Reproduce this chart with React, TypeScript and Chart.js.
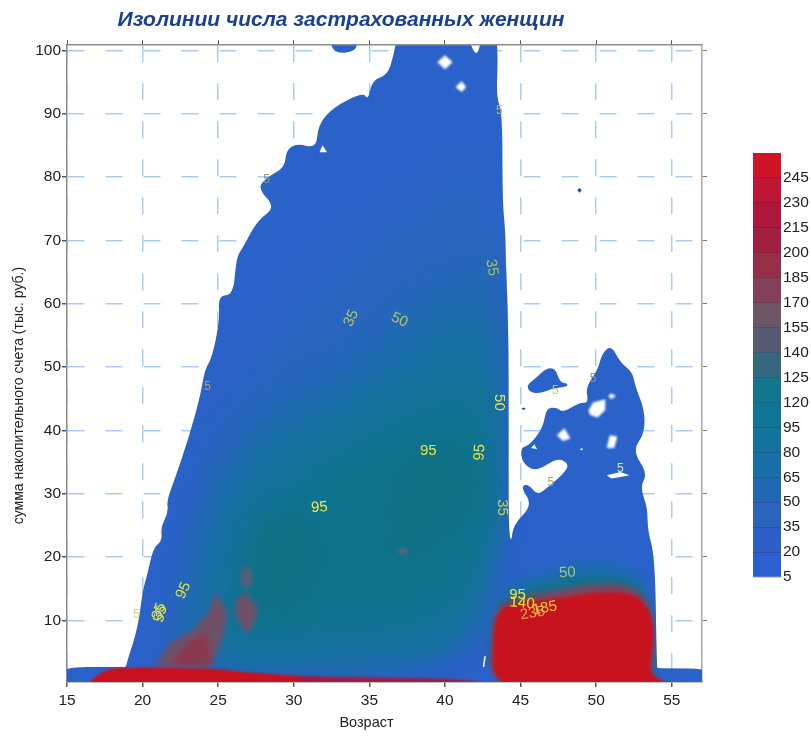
import React, { useEffect, useRef } from "react";
import { Chart, registerables, ScatterController } from "chart.js";

Chart.register(...registerables);

type Pair = number[];

const chartTitle = "Изолинии числа застрахованных женщин";
const xAxisTitle = "Возраст";
const yAxisTitle = "сумма накопительного счета (тыс. руб.)";
const ageTicks = [15, 20, 25, 30, 35, 40, 45, 50, 55];
const sumTicks = [10, 20, 30, 40, 50, 60, 70, 80, 90, 100];

const insuredOutline: Pair[] = [
  [14, -2], [14, 2.6], [18.7, 2.6], [18.9, 2.6], [19, 3.7], [19.7, 8.9], [20, 14.7], [20.3, 17.1], [20.7, 21.4], [21.3, 22.6],
  [21.2, 24.7], [21.7, 27], [21.6, 28.9], [22.1, 32.1], [23, 38.4], [23.8, 45.2], [24.1, 49.5], [24.6, 51.5],
  [25.1, 57.4], [25, 61.3], [26, 61.3], [26.2, 67.3], [26.6, 68.7], [27.6, 73.2], [28.8, 75.2], [27.6, 78.2],
  [28.2, 79.9], [29.4, 81.5], [29.5, 84.2], [30.2, 85.3], [31.5, 84.5], [31.6, 88.2], [32.6, 91], [34.6, 93.4],
  [34.9, 92.1], [35.2, 95.3], [36.2, 96.1], [36.6, 99.2], [36.9, 103], [41.4, 103], [42.1, 98.4], [42.5, 103],
  [43.4, 103], [43.5, 98.4], [43.4, 92.6], [43.8, 90.1], [43.8, 76.3], [44, 71.1], [44, 68.4], [44.2, 55.8],
  [44.2, 42], [44.2, 24.2], [44.4, 22.2], [44.5, 25], [45.8, 28.2], [45, 31], [45.5, 31.6], [46.1, 29.7],
  [46.8, 31], [48.1, 33.7], [48.1, 34.9], [47.4, 35.6], [46, 33.4], [45.1, 34.9], [45, 37.3], [45.6, 37.6],
  [46.5, 40.5], [46.7, 43.5], [47.4, 43.6], [47.8, 42.8], [48.9, 44.4], [49.5, 44.3], [49.3, 46.8], [50.1, 49.5],
  [50.4, 52.2], [51, 53.4], [51.6, 50.7], [52.4, 49.2], [52.6, 46.8], [53.2, 43.2], [53.2, 39.5], [52.4, 36.8],
  [53.4, 33.2], [52.9, 31], [53.4, 27.8], [53.4, 24.2], [53.9, 19.9], [54, 2.6], [54.1, 2.4], [58, 2.4], [58, -2],
];
const islandEast: Pair[] = [[45.4, 47.1], [46, 48.2], [46.7, 49.8], [47.3, 49.8], [47.6, 47.6], [48.1, 47.4], [48.1, 46.9], [47.1, 46.6], [46.3, 45.8], [45.6, 46]];
const islandTop: Pair[] = [[32.3, 103], [32.5, 100.2], [33.1, 99.5], [33.8, 99.8], [34.2, 100.4], [34.2, 103]];
const dotA: Pair[] = [[48.75, 77.9], [48.9, 78.3], [49.05, 77.9], [48.9, 77.5]];
const dotB: Pair[] = [[45.05, 43.4], [45.2, 43.6], [45.35, 43.4], [45.2, 43.2]];

const hole1: Pair[] = [[39.5, 98.1], [40, 99.2], [40.5, 98.1], [40, 97]];
const hole2: Pair[] = [[40.7, 94.2], [41.1, 95.1], [41.4, 94.2], [41.1, 93.4]];
const hole3: Pair[] = [[31.9, 85], [32.2, 83.9], [31.7, 83.9]];
const hole4: Pair[] = [[49.5, 43.2], [49.8, 44.4], [50.6, 44.9], [50.6, 43.2], [50.1, 42], [49.6, 42.4]];
const hole5: Pair[] = [[50.8, 45.4], [51, 45.8], [51.3, 45.4], [51, 44.9]];
const hole6: Pair[] = [[47.4, 39.2], [47.9, 40.3], [48.3, 38.7], [47.8, 38.3]];
const hole7: Pair[] = [[50.7, 37.2], [50.9, 39.2], [51.4, 39], [51.2, 37.2]];
const hole8: Pair[] = [[45.7, 37.2], [45.9, 37.8], [46.1, 37]];
const hole9: Pair[] = [[48.9, 37], [49.1, 37.2], [49.1, 36.8]];
const hole10: Pair[] = [[50.7, 32.9], [51.6, 33.4], [52.2, 32.9], [51.6, 32.6], [51, 32.4]];
const hole11: Pair[] = [[42.5, 2.6], [42.6, 4.3], [42.7, 4.3], [42.6, 2.6]];

const level20: Pair[] = [[20.5, 2.1], [21.7, 14.7], [22.8, 25.8], [24.1, 38.4], [25.9, 48.7], [28.1, 55.8], [30.4, 62.1], [33.1, 70], [37, 76.3], [41, 82.6], [43.5, 81], [43.7, 44.7], [43.8, 21.8], [42.3, 2.1]];
const level35: Pair[] = [[21.5, 2.1], [22.5, 14.7], [23.5, 25.8], [24.8, 36.8], [26.8, 45.5], [29.7, 51], [33.1, 55], [35.7, 60.5], [39, 66.8], [41.7, 70.8], [43.5, 70], [43.6, 44.7], [43.7, 21], [42.2, 1.8]];
const level50: Pair[] = [[22.3, 2.1], [23, 14.7], [24, 25.8], [25.6, 35.3], [27.6, 40.8], [30.6, 47.1], [34, 50], [37, 56.5], [39.7, 62.6], [42.3, 64], [43.4, 60.5], [43.6, 41.6], [43.5, 22.6], [41.7, 1.8]];
const level65: Pair[] = [[23.4, 2.1], [23.8, 14.7], [25, 27.4], [26.6, 35], [29.8, 42.4], [33.2, 45.4], [37, 52.4], [39.7, 58], [42.3, 59.5], [43.4, 54.2], [43.5, 40], [43.4, 24.2], [41.3, 3.7], [32.4, 3.4]];
const level80: Pair[] = [[24.8, 4.5], [25, 14.7], [26.2, 26.4], [27.8, 32.8], [31.2, 39.2], [34.5, 43.9], [38, 48.5], [41.7, 51.5], [43.2, 46.3], [43.2, 33.7], [43, 22.6], [41, 6.8], [33.1, 6]];
const level95: Pair[] = [[26.8, 7.8], [26.5, 14.7], [27.5, 25], [30, 31.2], [33.4, 36.8], [36.6, 40.6], [39.7, 44], [41.7, 44], [42.8, 38.4], [43, 28.9], [42.2, 19.5], [40.3, 11], [33.1, 8.6]];
const pocketNorth: Pair[] = [[36.7, 35.3], [39.7, 38.4], [42, 36.8], [42.3, 27.4], [39.7, 22.6], [37, 17.9], [35.7, 22.6]];
const pocketWest: Pair[] = [[27.1, 14.7], [27.4, 24.2], [29.7, 27.4], [32.4, 24.2], [31.7, 14.7], [28.4, 10]];

const lumpA: Pair[] = [[24.9, 14.3], [25.6, 11.1], [25.3, 7.3], [24.5, 2.6], [20.8, 2.6], [21.8, 6.4], [23.3, 8.4], [24.3, 11.1]];
const lumpAInner: Pair[] = [[24.3, 7.9], [24.5, 2.9], [21.8, 2.9], [23.1, 6.8]];
const lumpB: Pair[] = [[26.8, 14.3], [27.6, 12], [27.4, 9.5], [26.8, 7.9], [26.1, 11.1], [26.2, 13.2]];
const lumpC: Pair[] = [[26.9, 19], [27.3, 16.3], [26.9, 14.7], [26.4, 16.8]];
const lumpD: Pair[] = [[36.8, 20.9], [37.2, 21.5], [37.7, 20.9], [37.2, 20.3]];

const redStrip: Pair[] = [[16.2, -2], [16.3, 0], [17.4, 2.1], [18.7, 2.6], [24.9, 2.4], [26.6, 1.8], [29.9, 1.3], [33, 0.8], [33, -2]];
const darkStrip: Pair[] = [[29.9, 1.2], [34.4, 1], [43, 0.7], [43, -2], [29.9, -2]];

const block50: Pair[] = [[43.1, -2], [43, 11.6], [43.9, 15.5], [46.9, 17.9], [49.6, 19.5], [52.2, 18.7], [53.6, 14.7], [53.8, 6.8], [53.8, -2]];
const block80: Pair[] = [[43, -2], [43.1, 10.8], [44.3, 14.3], [46.9, 16], [49.6, 17.2], [52.2, 16.7], [53.4, 13.6], [53.7, 6.8], [53.7, -2]];
const block125: Pair[] = [[43, -2], [43.1, 9.2], [43.6, 12.4], [44.6, 13.5], [47.3, 14.6], [49.8, 15.7], [52, 15.7], [53.2, 13.9], [53.8, 10], [53.8, -2]];
const blockRed: Pair[] = [[43.1, -2], [43.2, 8.4], [43.5, 11.3], [44.3, 12.5], [47.6, 13.5], [49.8, 14.4], [52, 14.4], [53.1, 13.2], [53.8, 10], [53.8, 5.7], [53.4, 1.6], [54.9, 0], [55, -2]];

const labelTexts = ["95", "95", "95", "35", "50", "35", "50", "35", "95", "35", "55", "5", "5", "5", "5", "5", "5", "5", "5", "50", "95", "140", "235", "185"];
const labelAges = [31.7, 38.9, 42.3, 33.8, 37, 43.1, 43.6, 43.8, 22.7, 21.1, 21.2, 19.6, 24.3, 28.2, 43.6, 47.3, 49.8, 47, 51.6, 48.1, 44.8, 45.1, 45.8, 46.6];
const labelValues = [27.8, 36.8, 36.5, 57.7, 57.4, 65.7, 44.4, 27.8, 14.7, 11.4, 11, 10.8, 46.9, 79.5, 90.5, 46.3, 48.2, 31.7, 34, 17.5, 14, 12.7, 11.1, 11.9];
const labelAngles = [-5, 0, -85, -65, 25, 80, 90, 90, -65, -70, -75, 0, 0, 0, 0, 0, 0, 0, 0, -5, 0, 5, -10, -10];
const labelColors = ["#e8e83c", "#e8e83c", "#e8e83c", "#b4c85a", "#b4c85a", "#a8c060", "#e8e83c", "#c8d050", "#e0e040", "#e8e83c", "#e8e83c", "#d8d860", "#a8a850", "#909c50", "#b0b860", "#c8c850", "#8a9c70", "#a0a868", "#e8e8a0", "#a8c860", "#e8e83c", "#e8e83c", "#e0a848", "#e8d83c"];

const barLabels = ["5", "20", "35", "50", "65", "80", "95", "120", "125", "140", "155", "170", "185", "200", "215", "230", "245"];
const barColors = ["#2c5fd0", "#2c60c6", "#2a64bc", "#2069b2", "#176fa8", "#12739f", "#0f7596", "#10778c", "#35687f", "#555a75", "#6d5568", "#84405a", "#962e4a", "#a01f40", "#ad173c", "#c01636", "#d01428"];
const barUnits = barLabels.map(() => 1);

const BLUE = "#2b62c9";
const layerList: { points: Pair[]; color: string; blur: number; sharp?: boolean; mask?: boolean }[] = [
  { points: insuredOutline, color: BLUE, blur: 0, mask: true },
  { points: islandEast, color: BLUE, blur: 0 },
  { points: islandTop, color: BLUE, blur: 0 },
  { points: dotA, color: "#24509f", blur: 0.5, sharp: true },
  { points: dotB, color: "#24509f", blur: 0.5, sharp: true },
  { points: level20, color: "#2a64c2", blur: 11 },
  { points: level35, color: "#2567ba", blur: 11 },
  { points: level50, color: "#1e6bb0", blur: 11 },
  { points: level65, color: "#176fa4", blur: 11 },
  { points: level80, color: "#127298", blur: 11 },
  { points: level95, color: "#0f738e", blur: 11 },
  { points: pocketNorth, color: "#0f7186", blur: 10 },
  { points: pocketWest, color: "#0f7186", blur: 10 },
  { points: lumpA, color: "#6f5068", blur: 2.5, sharp: true },
  { points: lumpAInner, color: "#8a3850", blur: 2.5, sharp: true },
  { points: lumpB, color: "#6e5068", blur: 2.5, sharp: true },
  { points: lumpC, color: "#5c5c72", blur: 2.5, sharp: true },
  { points: lumpD, color: "#58647a", blur: 1.5, sharp: true },
  { points: block50, color: "#1c6cae", blur: 4 },
  { points: block80, color: "#12728f", blur: 3 },
  { points: block125, color: "#84405a", blur: 3 },
  { points: blockRed, color: "#c8121e", blur: 1.5 },
  { points: redStrip, color: "#c8101e", blur: 0.8 },
  { points: darkStrip, color: "#a01c44", blur: 0.8 },
  { points: hole1, color: "#ffffff", blur: 1, sharp: true },
  { points: hole2, color: "#ffffff", blur: 1, sharp: true },
  { points: hole3, color: "#ffffff", blur: 0.6, sharp: true },
  { points: hole4, color: "#ffffff", blur: 1, sharp: true },
  { points: hole5, color: "#ffffff", blur: 1, sharp: true },
  { points: hole6, color: "#ffffff", blur: 1, sharp: true },
  { points: hole7, color: "#ffffff", blur: 1, sharp: true },
  { points: hole8, color: "#ffffff", blur: 0.6, sharp: true },
  { points: hole9, color: "#ffffff", blur: 0.6, sharp: true },
  { points: hole10, color: "#ffffff", blur: 0.6, sharp: true },
  { points: hole11, color: "#ffffff", blur: 0.6, sharp: true },
];

const traceSmooth = (ctx: CanvasRenderingContext2D, pts: any[]) => {
  const n = pts.length;
  const mid = (a: any, b: any) => ({ x: (a.x + b.x) / 2, y: (a.y + b.y) / 2 });
  const start = mid(pts[n - 1], pts[0]);
  ctx.moveTo(start.x, start.y);
  for (let i = 0; i < n; i++) {
    const m = mid(pts[i], pts[(i + 1) % n]);
    ctx.quadraticCurveTo(pts[i].x, pts[i].y, m.x, m.y);
  }
  ctx.closePath();
};

class ContourController extends (ScatterController as any) {
  static id = "contour";
  draw() {
    const self = this as any;
    const ds: any = self.getDataset();
    const pts: any[] = self.getMeta().data;
    const chart = self.chart;
    const ctx: CanvasRenderingContext2D = chart.ctx;
    if (pts.length < 3) return;
    ctx.save();
    if (ds.blurRadius > 2 || ds.fillColor !== "#ffffff") {
      const maskIndex = chart.data.datasets.findIndex((d: any) => d.isMask);
      if (!ds.isMask && maskIndex >= 0 && ds.blurRadius > 2) {
        ctx.beginPath();
        traceSmooth(ctx, chart.getDatasetMeta(maskIndex).data);
        ctx.clip();
      }
    }
    if (ds.blurRadius) ctx.filter = `blur(${ds.blurRadius}px)`;
    ctx.fillStyle = ds.fillColor;
    ctx.beginPath();
    if (ds.sharpEdges) {
      pts.forEach((p, i) => (i ? ctx.lineTo(p.x, p.y) : ctx.moveTo(p.x, p.y)));
      ctx.closePath();
    } else {
      traceSmooth(ctx, pts);
    }
    ctx.fill();
    ctx.restore();
  }
}
Chart.register(ContourController as any);

const FONT = "'Liberation Sans', Arial, sans-serif";

const contourLabelPlugin = {
  id: "contourLabels",
  afterDatasetsDraw(chart: any) {
    const { ctx, scales } = chart;
    labelTexts.forEach((text, i) => {
      ctx.save();
      ctx.translate(scales.x.getPixelForValue(labelAges[i]), scales.y.getPixelForValue(labelValues[i]));
      ctx.rotate((labelAngles[i] * Math.PI) / 180);
      ctx.font = `${text === "5" ? 12 : 15}px ${FONT}`;
      ctx.fillStyle = labelColors[i];
      ctx.textAlign = "center";
      ctx.textBaseline = "middle";
      ctx.fillText(text, 0, 0);
      ctx.restore();
    });
  },
};

const shiftTitlesPlugin = {
  id: "shiftTitles",
  afterLayout(chart: any) {
    if (chart.titleBlock) chart.titleBlock.right = 682;
    const { x, y } = chart.scales;
    if (!x.__shifted) {
      x.__shifted = true;
      const drawX = x.drawTitle;
      x.drawTitle = function () {
        const r = this.right;
        this.right = r - 36;
        drawX.call(this);
        this.right = r;
      };
      const drawY = y.drawTitle;
      y.drawTitle = function () {
        const t = this.top;
        this.top = t + 64;
        drawY.call(this);
        this.top = t;
      };
    }
  },
};

const setTicks = (values: number[]) => (scale: any) => {
  scale.ticks = values.map((value) => ({ value }));
};

export default function App() {
  const mainRef = useRef<HTMLCanvasElement>(null);
  const barRef = useRef<HTMLCanvasElement>(null);

  useEffect(() => {
    const gridLine = { color: "#a9cdf2", lineWidth: 1.5, tickColor: "#555555", tickLength: 5 };
    const borderLine = { color: "#8c8c8c", width: 1.5, dash: [17, 21] };
    const tickFont = { family: FONT, size: 15.5 };
    const main = new Chart(mainRef.current as HTMLCanvasElement, {
      type: "scatter",
      data: {
        // Chart.js paints the first dataset last, so the list runs top layer first.
        datasets: [...layerList].reverse().map((layer) => ({
          type: "contour",
          data: layer.points.map(([x, y]) => ({ x, y })),
          fillColor: layer.color,
          blurRadius: layer.blur,
          sharpEdges: !!layer.sharp,
          isMask: !!layer.mask,
          pointRadius: 0,
          clip: 0,
        })) as any,
      },
      options: {
        animation: false,
        responsive: false,
        events: [],
        layout: { padding: { right: 109, left: 0, top: 0, bottom: 0 } },
        plugins: {
          legend: { display: false },
          tooltip: { enabled: false },
          title: {
            display: true,
            text: chartTitle,
            color: "#1a3f96",
            font: { family: FONT, size: 21, weight: "bold", style: "italic", lineHeight: 1.2 } as any,
            padding: { top: 8, bottom: 12 },
          },
        },
        scales: {
          x: {
            type: "linear",
            min: 15,
            max: 57,
            afterBuildTicks: setTicks(ageTicks),
            afterFit: (s: any) => { s.height = 54; },
            grid: gridLine,
            border: borderLine,
            ticks: { font: tickFont, color: "#222222", padding: 4, maxRotation: 0 },
            title: { display: true, text: xAxisTitle, color: "#222222", font: { family: FONT, size: 14.5 }, padding: { top: 0, bottom: 4 } },
          },
          y: {
            type: "linear",
            min: 0.25,
            max: 100.8,
            afterBuildTicks: setTicks(sumTicks),
            afterFit: (s: any) => { s.width = 67; },
            grid: gridLine,
            border: borderLine,
            ticks: { font: tickFont, color: "#222222", padding: 1 },
            title: { display: true, text: yAxisTitle, color: "#222222", font: { family: FONT, size: 14 }, padding: { top: 11, bottom: 0 } },
          },
          xTop: {
            type: "linear",
            position: "top",
            min: 15,
            max: 57,
            afterBuildTicks: setTicks(ageTicks),
            afterFit: (s: any) => { s.height = 0; },
            grid: { drawOnChartArea: false, tickColor: "#555555", tickLength: 5 },
            border: { color: "#8c8c8c", width: 1.5 },
            ticks: { display: false },
          },
          yRight: {
            type: "linear",
            position: "right",
            min: 0.25,
            max: 100.8,
            afterBuildTicks: setTicks(sumTicks),
            afterFit: (s: any) => { s.width = 0; },
            grid: { drawOnChartArea: false, tickColor: "#777777", tickLength: 5 },
            border: { color: "#a8a8a8", width: 1.5 },
            ticks: { display: false },
          },
        },
      } as any,
      plugins: [contourLabelPlugin, shiftTitlesPlugin],
    } as any);

    const bar = new Chart(barRef.current as HTMLCanvasElement, {
      type: "bar",
      data: {
        labels: ["scale"],
        datasets: barUnits.map((unit, i) => ({
          data: [unit],
          backgroundColor: barColors[i],
          barPercentage: 1,
          categoryPercentage: 1,
          stack: "bar",
        })),
      },
      options: {
        animation: false,
        responsive: false,
        events: [],
        layout: { padding: { top: 0, bottom: 10, left: 0, right: 0 } },
        plugins: { legend: { display: false }, tooltip: { enabled: false } },
        scales: {
          x: { display: false, stacked: true },
          y: {
            position: "right",
            stacked: true,
            min: 0,
            max: 17,
            afterBuildTicks: setTicks(barLabels.map((_, i) => i)),
            afterFit: (s: any) => { s.width = 30; s.paddingTop = 0; s.paddingBottom = 0; },
            grid: { color: "rgba(70,10,40,0.22)", drawTicks: false, z: 1 },
            border: { display: false },
            ticks: {
              font: tickFont,
              color: "#222222",
              padding: 2,
              callback: (v: any) => barLabels[v] ?? "",
            },
          },
        },
      } as any,
    } as any);

    return () => {
      main.destroy();
      bar.destroy();
    };
  }, []);

  return (
    <div style={{ position: "absolute", left: 0, top: 0, width: 811, height: 736, background: "#fff", overflow: "hidden" }}>
      <canvas ref={mainRef} width={811} height={736} style={{ position: "absolute", left: 0, top: 0, filter: "blur(0.4px)" }} />
      <canvas ref={barRef} width={58} height={434} style={{ position: "absolute", left: 753, top: 153, filter: "blur(0.4px)" }} />
    </div>
  );
}
